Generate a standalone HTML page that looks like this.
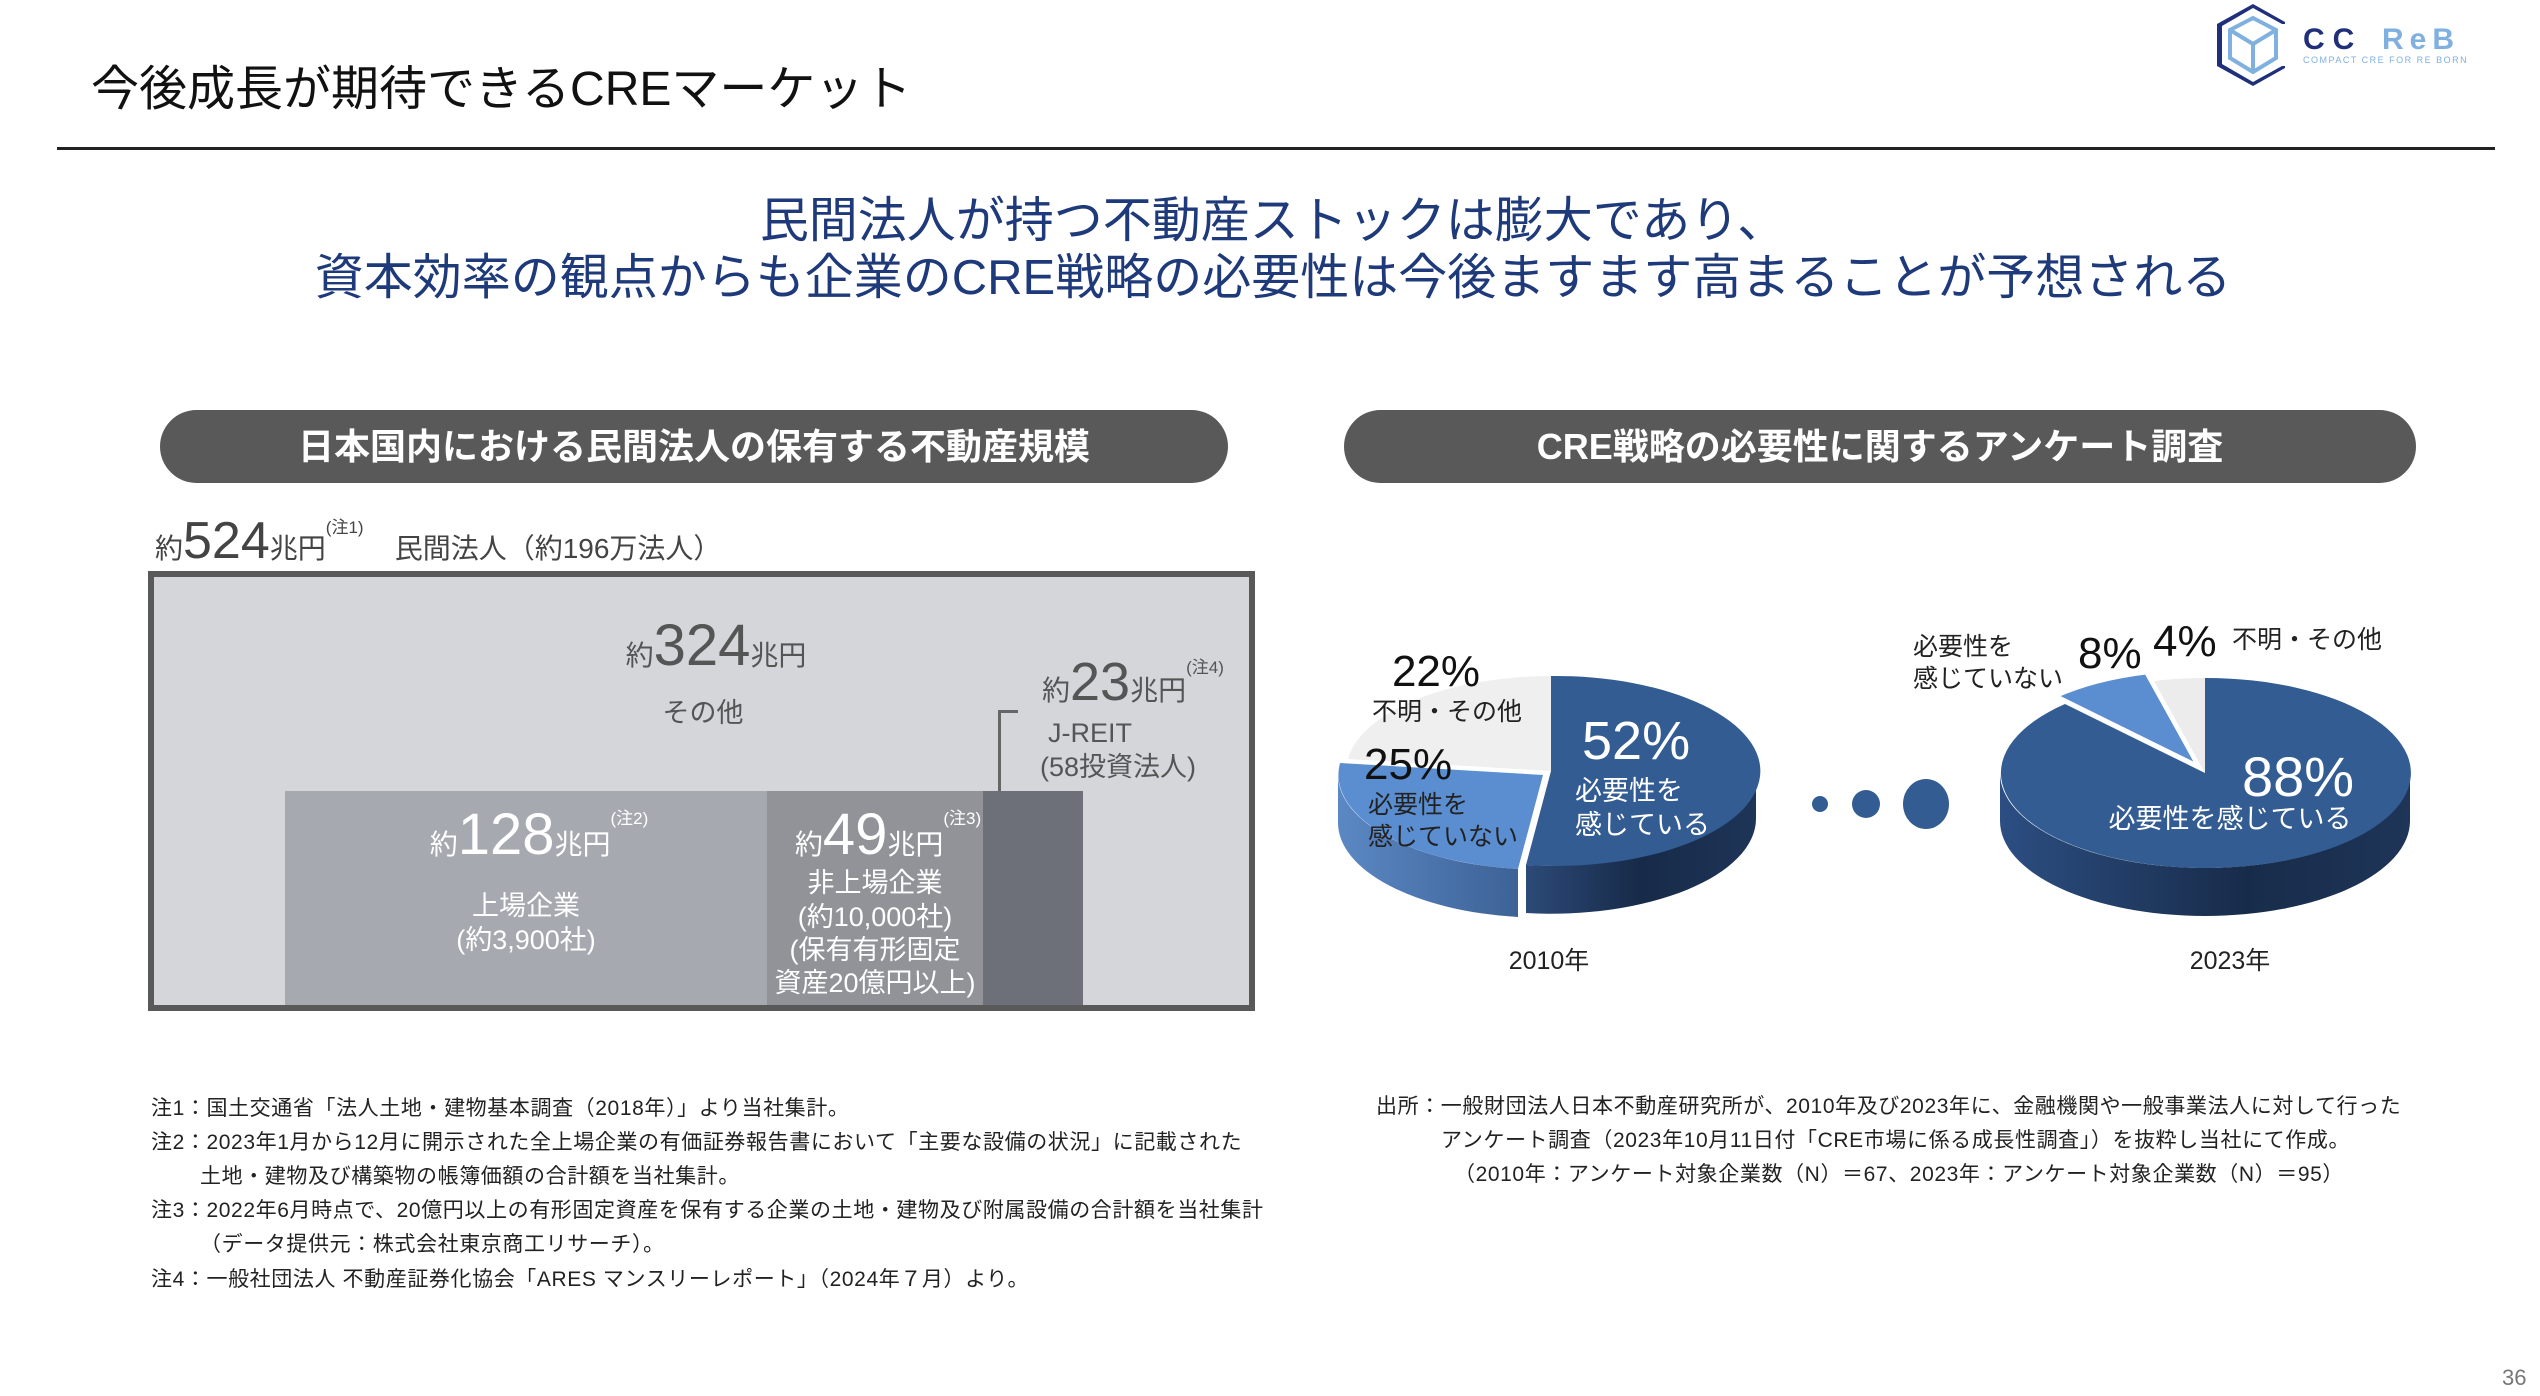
<!DOCTYPE html>
<html><head><meta charset="utf-8">
<style>
*{margin:0;padding:0;box-sizing:border-box}
body{width:2540px;height:1396px;background:#fff;position:relative;overflow:hidden;font-family:"Liberation Sans","Noto Sans CJK JP",sans-serif;color:#333}
.a{position:absolute;white-space:nowrap;line-height:1}
.c{transform:translateX(-50%)}
.pill{position:absolute;background:#595959;border-radius:37px;color:#fff;font-weight:bold;font-size:36px;text-align:center;line-height:73px}
.note{position:absolute;font-size:21px;color:#222;white-space:nowrap;line-height:1;letter-spacing:0.6px}
.big{font-size:58px}
.sup{font-size:17px;vertical-align:top;position:relative;top:4px}
</style></head><body>

<div class="a" style="left:91px;top:66px;font-size:48px;color:#111">今後成長が期待できるCREマーケット</div>
<div style="position:absolute;left:57px;top:147px;width:2438px;height:3px;background:#222"></div>

<!-- logo -->
<svg style="position:absolute;left:2210px;top:0" width="300" height="95">
<polygon points="43,4 75,22 75,24 72,24 43,8 12,26 12,64 43,82 72,66 75,66 75,68 43,86 7,66 7,24" fill="#1f2f7a"/>
<g fill="none" stroke="#7fb0e0" stroke-width="4">
<polygon points="43,18 66,30 66,58 43,72 20,58 20,30"/>
<line x1="20" y1="30" x2="43" y2="44"/><line x1="66" y1="30" x2="43" y2="44"/><line x1="43" y1="44" x2="43" y2="72"/>
</g>
<text x="93" y="49" font-family="Liberation Sans" font-weight="bold" font-size="30" fill="#1f2f7a" letter-spacing="8">CC</text>
<text x="172" y="49" font-family="Liberation Sans" font-weight="bold" font-size="30" fill="#7fb0e0" letter-spacing="6">ReB</text>
<text x="93" y="63" font-family="Liberation Sans" font-size="9" fill="#7fb0e0" letter-spacing="1.5">COMPACT CRE FOR RE BORN</text>
</svg>

<div class="a c" style="left:1273px;top:197px;font-size:49px;color:#1f3a7a">民間法人が持つ不動産ストックは膨大であり、</div>
<div class="a c" style="left:1273px;top:254px;font-size:49px;color:#1f3a7a">資本効率の観点からも企業のCRE戦略の必要性は今後ますます高まることが予想される</div>

<div class="pill" style="left:160px;top:410px;width:1068px;height:73px">日本国内における民間法人の保有する不動産規模</div>
<div class="pill" style="left:1344px;top:410px;width:1072px;height:73px">CRE戦略の必要性に関するアンケート調査</div>

<!-- left chart -->
<div class="a" style="left:155px;top:515px;font-size:28px;color:#444">約<span style="font-size:52px">524</span>兆円<span class="sup">(注1)</span>&nbsp;&nbsp;&nbsp;&nbsp;民間法人（約196万法人）</div>
<div style="position:absolute;left:148px;top:571px;width:1107px;height:440px;border:6px solid #595959;background:#d5d6da"></div>
<div style="position:absolute;left:285px;top:791px;width:482px;height:214px;background:#a7a9b0"></div>
<div style="position:absolute;left:767px;top:791px;width:216px;height:214px;background:#929399"></div>
<div style="position:absolute;left:983px;top:791px;width:100px;height:214px;background:#6d7078"></div>
<div style="position:absolute;left:998px;top:710px;width:3px;height:81px;background:#666"></div>
<div style="position:absolute;left:998px;top:710px;width:20px;height:3px;background:#666"></div>

<div class="a c" style="left:716px;top:617px;font-size:28px;color:#555">約<span class="big">324</span>兆円</div>
<div class="a c" style="left:703px;top:700px;font-size:27px;color:#555">その他</div>
<div class="a" style="left:1042px;top:655px;font-size:28px;color:#555">約<span style="font-size:54px">23</span>兆円<span class="sup">(注4)</span></div>
<div class="a" style="left:1048px;top:720px;font-size:27px;color:#555">J-REIT</div>
<div class="a" style="left:1040px;top:754px;font-size:27px;color:#555">(58投資法人)</div>

<div class="a c" style="left:539px;top:806px;font-size:28px;color:#fff">約<span class="big">128</span>兆円<span class="sup">(注2)</span></div>
<div class="a c" style="left:526px;top:893px;font-size:27px;color:#fff">上場企業</div>
<div class="a c" style="left:526px;top:927px;font-size:27px;color:#fff">(約3,900社)</div>
<div class="a c" style="left:888px;top:806px;font-size:28px;color:#fff">約<span class="big">49</span>兆円<span class="sup">(注3)</span></div>
<div class="a c" style="left:875px;top:870px;font-size:27px;color:#fff">非上場企業</div>
<div class="a c" style="left:875px;top:904px;font-size:27px;color:#fff">(約10,000社)</div>
<div class="a c" style="left:875px;top:937px;font-size:27px;color:#fff">(保有有形固定</div>
<div class="a c" style="left:875px;top:970px;font-size:27px;color:#fff">資産20億円以上)</div>

<!-- pies -->
<svg style="position:absolute;left:0;top:0" width="2540" height="1396">
<defs>
<linearGradient id="ds" x1="0" x2="1"><stop offset="0" stop-color="#2c4a78"/><stop offset="0.5" stop-color="#172a48"/><stop offset="1" stop-color="#1e3558"/></linearGradient>
<linearGradient id="ls" x1="0" x2="1"><stop offset="0" stop-color="#5b88c4"/><stop offset="1" stop-color="#3d6296"/></linearGradient>
<linearGradient id="ds2" x1="0" x2="1"><stop offset="0" stop-color="#2c4e82"/><stop offset="0.6" stop-color="#182c4a"/><stop offset="1" stop-color="#1e3558"/></linearGradient>
</defs>
<g transform="translate(-4,-12)">
<path d="M1760,783 A205,95 0 0 1 1530,877 L1530,925 A205,95 0 0 0 1760,831 Z" fill="url(#ds)"/>
<g transform="translate(-8,4)">
<path d="M1530,877 A205,95 0 0 1 1350,783 L1350,831 A205,95 0 0 0 1530,925 Z" fill="url(#ls)"/>
<path d="M1555,783 L1530,877 A205,95 0 0 1 1352,771 Z" fill="#5b8ed0"/>
</g>
<path d="M1555,783 L1352,771 A205,95 0 0 1 1555,688 Z" fill="#efefef"/>
<path d="M1555,783 L1555,688 A205,95 0 1 1 1530,877 Z" fill="#335c92"/>
</g>
<g transform="translate(-8,-10)">
<path d="M2418,783 A205,95 0 0 1 2008,783 L2008,831 A205,95 0 0 0 2418,831 Z" fill="url(#ds2)"/>
<path d="M2213,783 L2162,691 A205,95 0 0 1 2213,688 Z" fill="#ececec"/>
<path d="M2213,783 L2213,688 A205,95 0 1 1 2073,714 Z" fill="#335c92"/>
<g transform="translate(-8,-8)"><path d="M2213,783 L2073,714 A205,95 0 0 1 2162,691 Z" fill="#5b8ed0" stroke="#fff" stroke-width="3"/></g>
</g>
<circle cx="1820" cy="804" r="8" fill="#335c92"/>
<circle cx="1866" cy="804" r="14" fill="#335c92"/>
<ellipse cx="1926" cy="804" rx="23" ry="25" fill="#335c92"/>
</svg>

<div class="a c" style="left:1436px;top:650px;font-size:44px;color:#111">22%</div>
<div class="a" style="left:1372px;top:700px;font-size:25px;color:#222">不明・その他</div>
<div class="a" style="left:1364px;top:743px;font-size:44px;color:#111">25%</div>
<div class="a" style="left:1368px;top:793px;font-size:25px;color:#222">必要性を</div>
<div class="a" style="left:1368px;top:825px;font-size:25px;color:#222">感じていない</div>
<div class="a" style="left:1582px;top:714px;font-size:54px;color:#fff">52%</div>
<div class="a" style="left:1575px;top:778px;font-size:27px;color:#fff">必要性を</div>
<div class="a" style="left:1575px;top:812px;font-size:27px;color:#fff">感じている</div>
<div class="a c" style="left:1549px;top:949px;font-size:25px;color:#222">2010年</div>

<div class="a" style="left:1913px;top:635px;font-size:25px;color:#222">必要性を</div>
<div class="a" style="left:1913px;top:667px;font-size:25px;color:#222">感じていない</div>
<div class="a" style="left:2078px;top:632px;font-size:44px;color:#111">8%</div>
<div class="a" style="left:2153px;top:620px;font-size:44px;color:#111">4%</div>
<div class="a" style="left:2232px;top:628px;font-size:25px;color:#222">不明・その他</div>
<div class="a c" style="left:2298px;top:749px;font-size:56px;color:#fff">88%</div>
<div class="a c" style="left:2230px;top:806px;font-size:27px;color:#fff">必要性を感じている</div>
<div class="a c" style="left:2230px;top:949px;font-size:25px;color:#222">2023年</div>

<!-- notes -->
<div class="note" style="left:151px;top:1098px">注1：国土交通省「法人土地・建物基本調査（2018年）」より当社集計。</div>
<div class="note" style="left:151px;top:1132px">注2：2023年1月から12月に開示された全上場企業の有価証券報告書において「主要な設備の状況」に記載された</div>
<div class="note" style="left:200px;top:1166px">土地・建物及び構築物の帳簿価額の合計額を当社集計。</div>
<div class="note" style="left:151px;top:1200px">注3：2022年6月時点で、20億円以上の有形固定資産を保有する企業の土地・建物及び附属設備の合計額を当社集計</div>
<div class="note" style="left:200px;top:1234px">（データ提供元：株式会社東京商工リサーチ）。</div>
<div class="note" style="left:151px;top:1269px">注4：一般社団法人 不動産証券化協会「ARES マンスリーレポート」（2024年７月）より。</div>

<div class="note" style="left:1376px;top:1096px">出所：一般財団法人日本不動産研究所が、2010年及び2023年に、金融機関や一般事業法人に対して行った</div>
<div class="note" style="left:1441px;top:1130px">アンケート調査（2023年10月11日付「CRE市場に係る成長性調査」）を抜粋し当社にて作成。</div>
<div class="note" style="left:1454px;top:1164px">（2010年：アンケート対象企業数（N）＝67、2023年：アンケート対象企業数（N）＝95）</div>

<div class="a" style="left:2502px;top:1367px;font-size:22px;color:#777">36</div>
</body></html>
